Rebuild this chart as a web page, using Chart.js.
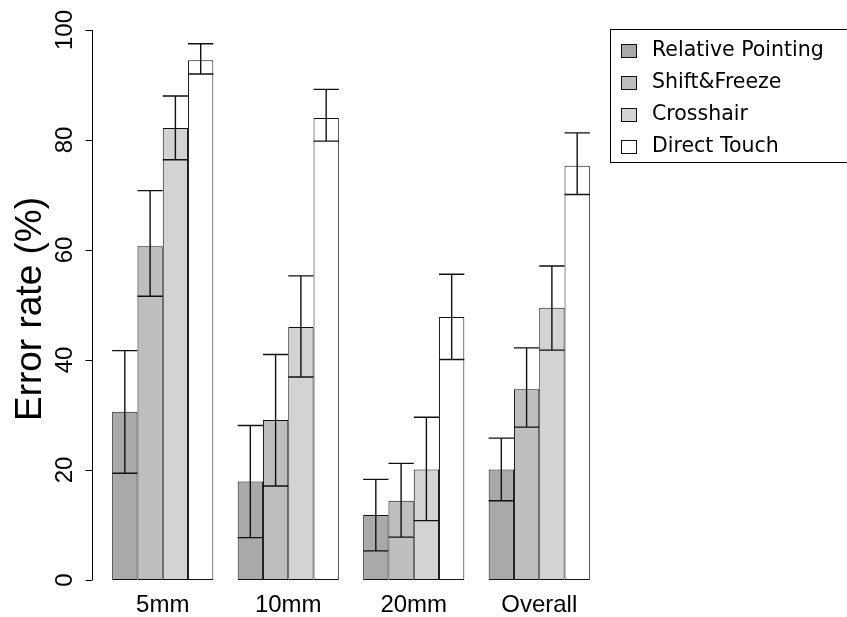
<!DOCTYPE html>
<html>
<head>
<meta charset="utf-8">
<script src="https://cdn.jsdelivr.net/npm/chart.js@4.4.0/dist/chart.umd.min.js"></script>
<style>
  body { margin: 0; background: #fff; }
  canvas { display: block; }
</style>
</head>
<body>
<canvas id="chart" width="847" height="617"></canvas>
<script>
// groups along the x axis
const categories = ['5mm', '10mm', '20mm', 'Overall'];
const yTicks = [0, 20, 40, 60, 80, 100];

// mean error rate (%) and the lower / upper ends of the error bars
const relPointing = [30.6, 17.9, 11.8, 20.1];
const relPointingLo = [19.4, 7.7, 5.3, 14.4];
const relPointingHi = [41.7, 28.1, 18.3, 25.8];

const shiftFreeze = [60.7, 29.1, 14.4, 34.7];
const shiftFreezeLo = [51.6, 17.1, 7.8, 27.8];
const shiftFreezeHi = [70.8, 41.0, 21.2, 42.2];

const crosshair = [82.2, 46.0, 20.1, 49.5];
const crosshairLo = [76.4, 36.9, 10.8, 41.8];
const crosshairHi = [88.0, 55.3, 29.6, 57.1];

const directTouch = [94.5, 84.0, 47.8, 75.3];
const directTouchLo = [92.0, 79.8, 40.1, 70.1];
const directTouchHi = [97.5, 89.2, 55.6, 81.3];

const seriesNames = ['Relative Pointing', 'Shift&Freeze', 'Crosshair', 'Direct Touch'];
const seriesColors = ['#a9a9a9', '#bebebe', '#d3d3d3', '#ffffff'];
const lows = [relPointingLo, shiftFreezeLo, crosshairLo, directTouchLo];
const highs = [relPointingHi, shiftFreezeHi, crosshairHi, directTouchHi];

const mkSet = (i, data) => ({
    label: seriesNames[i],
    data: data,
    backgroundColor: seriesColors[i],
    borderColor: '#111',
    borderWidth: 1,
    borderSkipped: false,
    categoryPercentage: 0.806,
    barPercentage: 1.0
});

// axes, error bars and legend drawn by hand (R style)
const decor = {
    id: 'decor',
    afterDatasetsDraw(chart) {
        const ctx = chart.ctx;
        const ys = chart.scales.y;
        const xs = chart.scales.x;

        // error bars
        ctx.save();
        ctx.strokeStyle = '#111';
        ctx.lineWidth = 1.4;
        chart.data.datasets.forEach((ds, d) => {
            chart.getDatasetMeta(d).data.forEach((bar, i) => {
                const yl = ys.getPixelForValue(lows[d][i]);
                const yh = ys.getPixelForValue(highs[d][i]);
                const half = bar.width / 2;
                ctx.beginPath();
                ctx.moveTo(bar.x, yl); ctx.lineTo(bar.x, yh);
                ctx.moveTo(bar.x - half, yh); ctx.lineTo(bar.x + half, yh);
                ctx.moveTo(bar.x - half, yl); ctx.lineTo(bar.x + half, yl);
                ctx.stroke();
            });
        });
        ctx.restore();

        // y axis
        ctx.save();
        ctx.strokeStyle = '#000';
        ctx.lineWidth = 1;
        const ax = 92.5;
        ctx.beginPath();
        ctx.moveTo(ax, ys.getPixelForValue(yTicks[0]));
        ctx.lineTo(ax, ys.getPixelForValue(yTicks[yTicks.length - 1]));
        yTicks.forEach(t => {
            const py = Math.round(ys.getPixelForValue(t)) + 0.5;
            ctx.moveTo(ax, py); ctx.lineTo(ax - 7, py);
        });
        ctx.stroke();

        ctx.fillStyle = '#000';
        ctx.font = '24px "Liberation Sans"';
        ctx.textAlign = 'center';
        ctx.textBaseline = 'alphabetic';
        yTicks.forEach(t => {
            ctx.save();
            ctx.translate(72, ys.getPixelForValue(t));
            ctx.rotate(-Math.PI / 2);
            ctx.fillText(String(t), 0, 0);
            ctx.restore();
        });

        ctx.save();
        ctx.font = '37px "Liberation Sans"';
        ctx.translate(41, (chart.chartArea.top + chart.chartArea.bottom) / 2 + 4);
        ctx.rotate(-Math.PI / 2);
        ctx.fillText('Error rate (%)', 0, 0);
        ctx.restore();

        // x labels
        ctx.font = '24px "Liberation Sans"';
        categories.forEach((c, i) => {
            ctx.fillText(c, xs.getPixelForTick(i), 612);
        });
        ctx.restore();

        // legend
        ctx.save();
        ctx.strokeStyle = '#000';
        ctx.lineWidth = 1;
        ctx.strokeRect(610.5, 29.5, 260, 133);
        ctx.font = '20.5px "DejaVu Sans"';
        ctx.textAlign = 'left';
        ctx.textBaseline = 'middle';
        seriesNames.forEach((n, i) => {
            const cy = 50 + i * 32;
            ctx.fillStyle = seriesColors[i];
            ctx.fillRect(621, cy - 6, 15, 13);
            ctx.strokeStyle = '#111';
            ctx.strokeRect(621.5, cy - 5.5, 15, 13);
            ctx.fillStyle = '#000';
            ctx.fillText(n, 652, cy + 1);
        });
        ctx.restore();
    }
};

new Chart(document.getElementById('chart'), {
    type: 'bar',
    data: {
        labels: categories,
        datasets: [
            mkSet(0, relPointing),
            mkSet(1, shiftFreeze),
            mkSet(2, crosshair),
            mkSet(3, directTouch)
        ]
    },
    options: {
        responsive: false,
        devicePixelRatio: 1,
        animation: false,
        layout: { padding: { left: 100, right: 245, top: 30, bottom: 37 } },
        scales: {
            x: { display: false },
            y: { display: false, min: 0, max: 100 }
        },
        plugins: {
            legend: { display: false },
            tooltip: { enabled: false }
        }
    },
    plugins: [decor]
});
</script>
</body>
</html>
